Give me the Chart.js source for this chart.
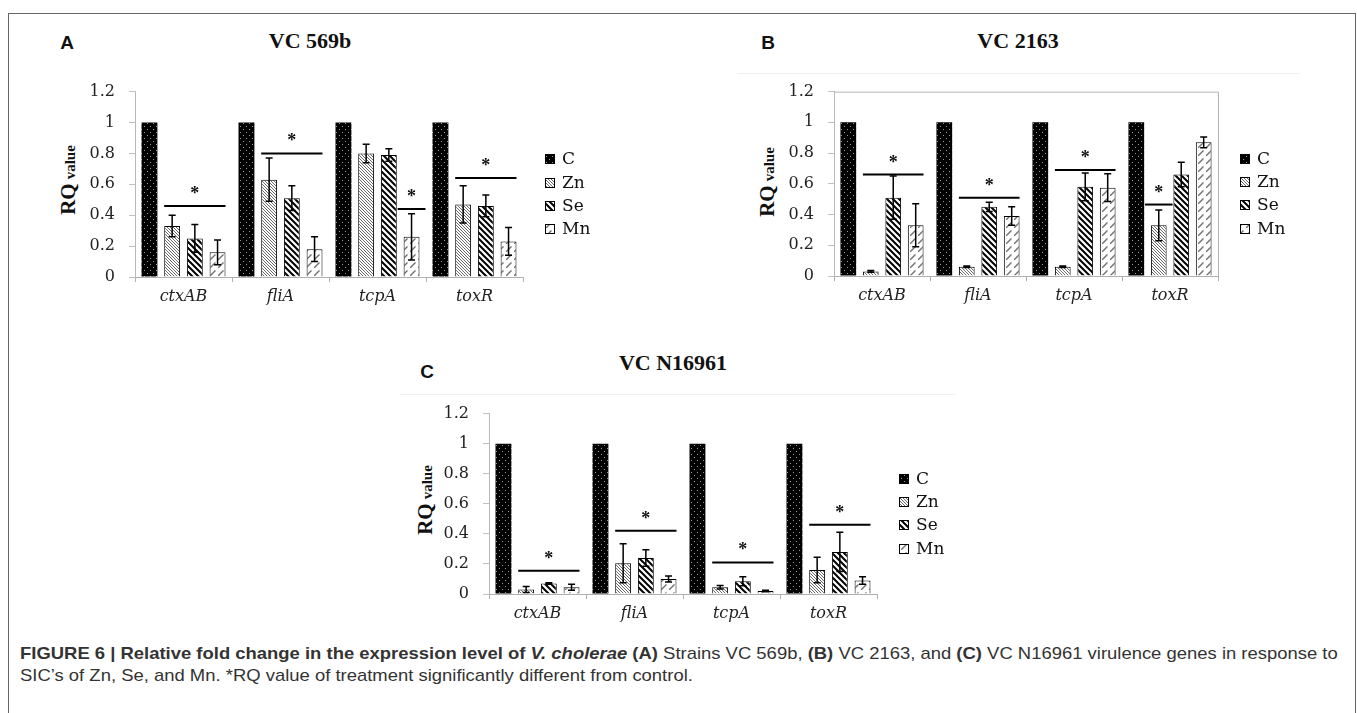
<!DOCTYPE html>
<html lang="en">
<head>
<meta charset="UTF-8">
<title>Figure 6 - RQ values</title>
<script src="https://cdn.jsdelivr.net/npm/chart.js"></script>
<style>
  body { margin: 0; width: 1357px; height: 713px; overflow: hidden; background: #fff; position: relative; font-family: "Liberation Serif", serif; }
  .frame { position: absolute; left: 8px; top: 13px; width: 1346px; height: 760px; border: 1px solid #666; }
  .letter { position: absolute; font: bold 19px "Liberation Sans", Arial, sans-serif; transform: translate(-50%, -50%); color: #111; }
  .title { position: absolute; font: bold 22px "Liberation Serif", serif; transform: translate(-50%, -50%); white-space: nowrap; color: #111; }
  .ylab { position: absolute; font-weight: bold; transform: translate(-50%, -50%) rotate(-90deg); white-space: nowrap; color: #111; }
  .ylab .big { font-size: 21px; }
  .ylab .small { font-size: 15px; }
  .faint { position: absolute; height: 1px; background: #f0f0f0; }
  canvas { position: absolute; }
  .caption { position: absolute; left: 20px; top: 643px; font: 17px/22px "Liberation Sans", Arial, sans-serif; color: #333; white-space: nowrap; transform: scaleX(1.085); transform-origin: 0 0; }
</style>
</head>
<body>
  <div class="frame"></div>

  <div class="faint" style="left:737px; top:73px; width:563px;"></div>
  <div class="faint" style="left:400px; top:394px; width:555px;"></div>

  <div class="letter" style="left:67px; top:43px;">A</div>
  <div class="title" style="left:310px; top:41px;">VC 569b</div>
  <div class="ylab" style="left:68px; top:180px;"><span class="big">RQ</span> <span class="small">value</span></div>
  <canvas id="chartA" width="560" height="242" style="left:50px; top:68px;"></canvas>

  <div class="letter" style="left:768px; top:43px;">B</div>
  <div class="title" style="left:1018px; top:41px;">VC 2163</div>
  <div class="ylab" style="left:767px; top:182px;"><span class="big">RQ</span> <span class="small">value</span></div>
  <canvas id="chartB" width="555" height="241" style="left:750px; top:68px;"></canvas>

  <div class="letter" style="left:427px; top:372px;">C</div>
  <div class="title" style="left:673px; top:363px;">VC N16961</div>
  <div class="ylab" style="left:425px; top:500px;"><span class="big">RQ</span> <span class="small">value</span></div>
  <canvas id="chartC" width="559" height="237" style="left:405px; top:390px;"></canvas>

  <div class="caption"><b>FIGURE 6 | Relative fold change in the expression level of <i>V. cholerae</i> (A)</b> Strains VC 569b, <b>(B)</b> VC 2163, and <b>(C)</b> VC N16961 virulence genes in response to<br>SIC’s of Zn, Se, and Mn. *RQ value of treatment significantly different from control.</div>

<script>
const genes = ['ctxAB', 'fliA', 'tcpA', 'toxR'];
const treatments = ['C', 'Zn', 'Se', 'Mn'];
const yTicks = [0, 0.2, 0.4, 0.6, 0.8, 1, 1.2];
const yTickLabels = ['0', '0.2', '0.4', '0.6', '0.8', '1', '1.2'];

// VC 569b
const aC  = [1, 1, 1, 1];
const aZn = [0.33, 0.63, 0.80, 0.47];
const aSe = [0.25, 0.51, 0.79, 0.46];
const aMn = [0.16, 0.18, 0.26, 0.23];
const aZnErr = [0.07, 0.14, 0.06, 0.12];
const aSeErr = [0.09, 0.08, 0.04, 0.07];
const aMnErr = [0.08, 0.08, 0.15, 0.09];
// [gene, first treatment, last treatment, RQ level]
const aSig = [[0, 1, 3, 0.46], [1, 1, 3, 0.80], [2, 3, 3, 0.44], [3, 1, 3, 0.64]];

// VC 2163
const bC  = [1, 1, 1, 1];
const bZn = [0.03, 0.06, 0.06, 0.33];
const bSe = [0.51, 0.45, 0.58, 0.66];
const bMn = [0.33, 0.39, 0.575, 0.87];
const bZnErr = [0.005, 0.005, 0.005, 0.10];
const bSeErr = [0.14, 0.03, 0.09, 0.08];
const bMnErr = [0.14, 0.06, 0.09, 0.035];
const bSig = [[0, 1, 3, 0.66], [1, 1, 3, 0.51], [2, 1, 3, 0.69], [3, 1, 1, 0.465]];

// VC N16961
const cC  = [1, 1, 1, 1];
const cZn = [0.03, 0.205, 0.045, 0.16];
const cSe = [0.07, 0.24, 0.085, 0.28];
const cMn = [0.045, 0.10, 0.02, 0.09];
const cZnErr = [0.02, 0.13, 0.012, 0.085];
const cSeErr = [0.005, 0.055, 0.03, 0.13];
const cMnErr = [0.02, 0.02, 0.005, 0.025];
const cSig = [[0, 1, 3, 0.155], [1, 1, 3, 0.42], [2, 1, 3, 0.21], [3, 1, 3, 0.46]];

function tile(size, draw) {
  const c = document.createElement('canvas');
  c.width = size; c.height = size;
  const g = c.getContext('2d');
  draw(g, size);
  return g.createPattern(c, 'repeat');
}

// fill patterns for the four treatments
const patterns = [
  tile(6, (g, s) => {           // C: black with light dots
    g.fillStyle = '#000'; g.fillRect(0, 0, s, s);
    g.fillStyle = '#9a9a9a';
    g.fillRect(1, 1, 1, 1); g.fillRect(4, 4, 1, 1);
  }),
  tile(3, (g, s) => {           // Zn: fine dense hatch
    g.fillStyle = '#fff'; g.fillRect(0, 0, s, s);
    g.strokeStyle = '#6a6a6a'; g.lineWidth = 1;
    g.beginPath();
    g.moveTo(0, 0); g.lineTo(s, s);
    g.moveTo(-1, s - 1); g.lineTo(1, s + 1);
    g.moveTo(s - 1, -1); g.lineTo(s + 1, 1);
    g.stroke();
  }),
  tile(6, (g, s) => {           // Se: bold backslash
    g.fillStyle = '#fff'; g.fillRect(0, 0, s, s);
    g.strokeStyle = '#000'; g.lineWidth = 2;
    g.beginPath();
    g.moveTo(0, 0); g.lineTo(s, s);
    g.moveTo(-2, s - 2); g.lineTo(2, s + 2);
    g.moveTo(s - 2, -2); g.lineTo(s + 2, 2);
    g.stroke();
  }),
  tile(8, (g, s) => {           // Mn: dashed slash
    g.fillStyle = '#fff'; g.fillRect(0, 0, s, s);
    g.strokeStyle = '#6e6e6e'; g.lineWidth = 1.3;
    g.beginPath();
    g.moveTo(0, s); g.lineTo(5.5, 2.5);
    g.stroke();
  })
];

function marksPlugin(sig, framed) {
  return {
    id: 'marks',
    afterDatasetsDraw(chart) {
      const ctx = chart.ctx, y = chart.scales.y, area = chart.chartArea;
      ctx.save();

      if (framed) {
        ctx.strokeStyle = '#b4b4b4'; ctx.lineWidth = 1;
        ctx.beginPath();
        ctx.moveTo(area.left, area.top + 0.5); ctx.lineTo(area.right + 0.5, area.top + 0.5);
        ctx.lineTo(area.right + 0.5, area.bottom);
        ctx.stroke();
      }

      // error bars
      ctx.strokeStyle = '#000'; ctx.lineWidth = 1.5;
      chart.data.datasets.forEach((ds, i) => {
        if (!ds.errors) return;
        chart.getDatasetMeta(i).data.forEach((bar, j) => {
          const v = ds.data[j], d = ds.errors[j];
          const top = y.getPixelForValue(v + d), bot = y.getPixelForValue(Math.max(v - d, 0));
          ctx.beginPath();
          ctx.moveTo(bar.x, top); ctx.lineTo(bar.x, bot);
          ctx.moveTo(bar.x - 3.5, top); ctx.lineTo(bar.x + 3.5, top);
          ctx.moveTo(bar.x - 3.5, bot); ctx.lineTo(bar.x + 3.5, bot);
          ctx.stroke();
        });
      });

      // significance lines + stars
      ctx.lineWidth = 2;
      ctx.fillStyle = '#111';
      ctx.font = 'bold 18px "Liberation Serif"';
      ctx.textAlign = 'center';
      ctx.textBaseline = 'alphabetic';
      sig.forEach(([cat, from, to, val]) => {
        const b1 = chart.getDatasetMeta(from).data[cat];
        const b2 = chart.getDatasetMeta(to).data[cat];
        const pad = from === to ? 6 : 0;
        const x1 = b1.x - b1.width / 2 - pad, x2 = b2.x + b2.width / 2 + pad;
        const yy = y.getPixelForValue(val);
        ctx.beginPath(); ctx.moveTo(x1, yy); ctx.lineTo(x2, yy); ctx.stroke();
        ctx.fillText('*', (x1 + x2) / 2, yy - 7);
      });

      // legend
      const lx = area.right + 22;
      const cy = (area.top + area.bottom) / 2 + 10;
      ctx.font = '17px "DejaVu Serif"';
      ctx.textAlign = 'left';
      ctx.textBaseline = 'middle';
      ctx.lineWidth = 1;
      chart.data.datasets.forEach((ds, i) => {
        const yy = Math.round(cy + (i - 1.5) * 23.3);
        ctx.fillStyle = ds.backgroundColor;
        ctx.fillRect(lx, yy - 5, 10, 10);
        ctx.strokeStyle = '#000';
        ctx.strokeRect(lx + 0.5, yy - 4.5, 9, 9);
        ctx.fillStyle = '#111';
        ctx.fillText(ds.label, lx + 17, yy + 1);
      });
      ctx.restore();
    }
  };
}

function drawPanel(id, series, errs, sig, yWidth, padTop, framed) {
  new Chart(document.getElementById(id), {
    type: 'bar',
    data: {
      labels: genes,
      datasets: treatments.map((t, i) => ({
        label: t,
        data: series[i],
        errors: errs[i],
        backgroundColor: patterns[i],
        borderColor: '#000',
        borderWidth: i === 0 ? 0 : 1,
        categoryPercentage: 0.936,
        barPercentage: 0.70
      }))
    },
    options: {
      responsive: false,
      animation: false,
      layout: { padding: { top: padTop, right: 87, bottom: 0, left: 0 } },
      plugins: { legend: { display: false }, tooltip: { enabled: false } },
      scales: {
        x: {
          grid: { offset: true, drawOnChartArea: false, tickLength: 5, color: '#b0b0b0' },
          border: { color: '#b0b0b0' },
          ticks: { color: '#222', padding: 5, font: { family: '"DejaVu Serif"', size: 16, style: 'italic' } },
          afterFit(s) { s.height = 33; }
        },
        y: {
          min: 0, max: 1.2,
          afterBuildTicks(s) { s.ticks = yTicks.map(v => ({ value: v })); },
          grid: { drawOnChartArea: false, tickLength: 6, color: '#c0c0c0' },
          border: { color: '#b8b8b8' },
          ticks: { color: '#222', padding: 14, font: { family: '"DejaVu Serif"', size: 16 }, callback: (v, i) => yTickLabels[i] },
          afterFit(s) { s.width = yWidth; }
        }
      }
    },
    plugins: [marksPlugin(sig, framed)]
  });
}

drawPanel('chartA', [aC, aZn, aSe, aMn], [null, aZnErr, aSeErr, aMnErr], aSig, 85, 15, false);
drawPanel('chartB', [bC, bZn, bSe, bMn], [null, bZnErr, bSeErr, bMnErr], bSig, 84, 16, true);
drawPanel('chartC', [cC, cZn, cSe, cMn], [null, cZnErr, cSeErr, cMnErr], cSig, 84, 16, false);
</script>
</body>
</html>
